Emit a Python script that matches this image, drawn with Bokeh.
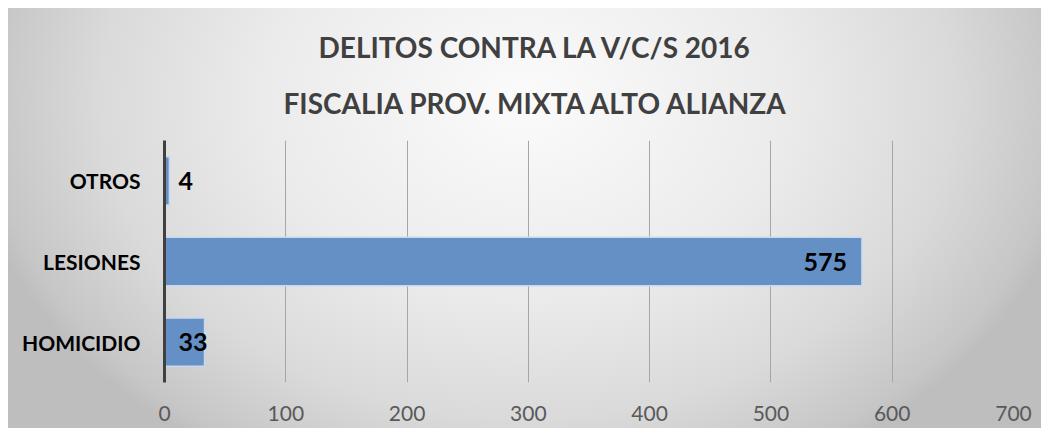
from bokeh.plotting import figure
from bokeh.models import ColumnDataSource, Title, Range1d, FactorRange, FixedTicker, InlineStyleSheet
from bokeh.embed import file_html
from bokeh.resources import INLINE
from bokeh.core.properties import value

categories = ["HOMICIDIO", "LESIONES", "OTROS"]
counts = [33, 575, 4]
x_ticks = [0, 100, 200, 300, 400, 500, 600, 700]
title_lines = ["DELITOS CONTRA LA V/C/S  2016", "FISCALIA PROV. MIXTA ALTO ALIANZA"]

FONT = "Lato"

bg_css = InlineStyleSheet(css="""
:host {
  background: radial-gradient(ellipse 560px 420px at 517px 92px,
      #fbfbfb 0%, #ebebeb 47%, #dadada 76%, #c6c6c6 96%, #bebebe 100%);
}
""")

p = figure(width=1033, height=420, output_backend="svg", toolbar_location=None,
           y_range=FactorRange(*categories), x_range=Range1d(0, 700),
           min_border_left=156, min_border_right=28, min_border_bottom=46, min_border_top=132,
           margin=(8, 8, 8, 8))
p.stylesheets = [bg_css]
p.background_fill_color = None
p.border_fill_color = None
p.outline_line_color = None
p.title = None

src = ColumnDataSource(dict(cat=categories, val=counts))
p.hbar(y="cat", right="val", left=0, height=0.6, source=src,
       fill_color="#6590c5", line_color="#c9d8ec", line_width=1.5)

# data labels: inside end, or near the axis when the bar is short
big_idx = [i for i, c in enumerate(counts) if c >= 50]
small_idx = [i for i, c in enumerate(counts) if c < 50]
src_big = ColumnDataSource(dict(cat=[categories[i] for i in big_idx],
                                val=[counts[i] for i in big_idx],
                                txt=[str(counts[i]) for i in big_idx]))
src_small = ColumnDataSource(dict(cat=[categories[i] for i in small_idx],
                                  val=[0 for i in small_idx],
                                  txt=[str(counts[i]) for i in small_idx]))
p.text(x="val", y="cat", text="txt", source=src_big, text_align="right", text_baseline="middle",
       x_offset=-15, text_font=value(FONT), text_font_style="bold", text_font_size="25px",
       text_color="#000000")
p.text(x="val", y="cat", text="txt", source=src_small, text_align="left", text_baseline="middle",
       x_offset=14, text_font=value(FONT), text_font_style="bold", text_font_size="25px",
       text_color="#000000")

# axes
p.xaxis.ticker = FixedTicker(ticks=x_ticks)
p.xaxis.axis_line_color = None
p.xaxis.major_tick_line_color = None
p.xaxis.minor_tick_line_color = None
p.xaxis.major_label_text_font = FONT
p.xaxis.major_label_text_font_size = "21px"
p.xaxis.major_label_text_color = "#595959"
p.xaxis.major_label_standoff = 17

p.yaxis.axis_line_color = "#404040"
p.yaxis.axis_line_width = 3
p.yaxis.major_tick_line_color = None
p.yaxis.minor_tick_line_color = None
p.yaxis.major_label_text_font = FONT
p.yaxis.major_label_text_font_style = "bold"
p.yaxis.major_label_text_font_size = "21px"
p.yaxis.major_label_text_color = "#000000"
p.yaxis.major_label_standoff = 18

p.xgrid.grid_line_color = "#a6a6a6"
p.xgrid.grid_line_width = 1
p.ygrid.grid_line_color = None

# title: two lines, the lower one added first (closest to the frame)
t2 = Title(text=title_lines[1], align="left", offset=119, standoff=41,
           text_font=FONT, text_font_style="bold", text_font_size="28px", text_color="#404040")
t1 = Title(text=title_lines[0], align="left", offset=154, standoff=0,
           text_font=FONT, text_font_style="bold", text_font_size="28px", text_color="#404040")
p.add_layout(t2, "above")
p.add_layout(t1, "above")

open("out.html", "w").write(file_html(p, INLINE))
